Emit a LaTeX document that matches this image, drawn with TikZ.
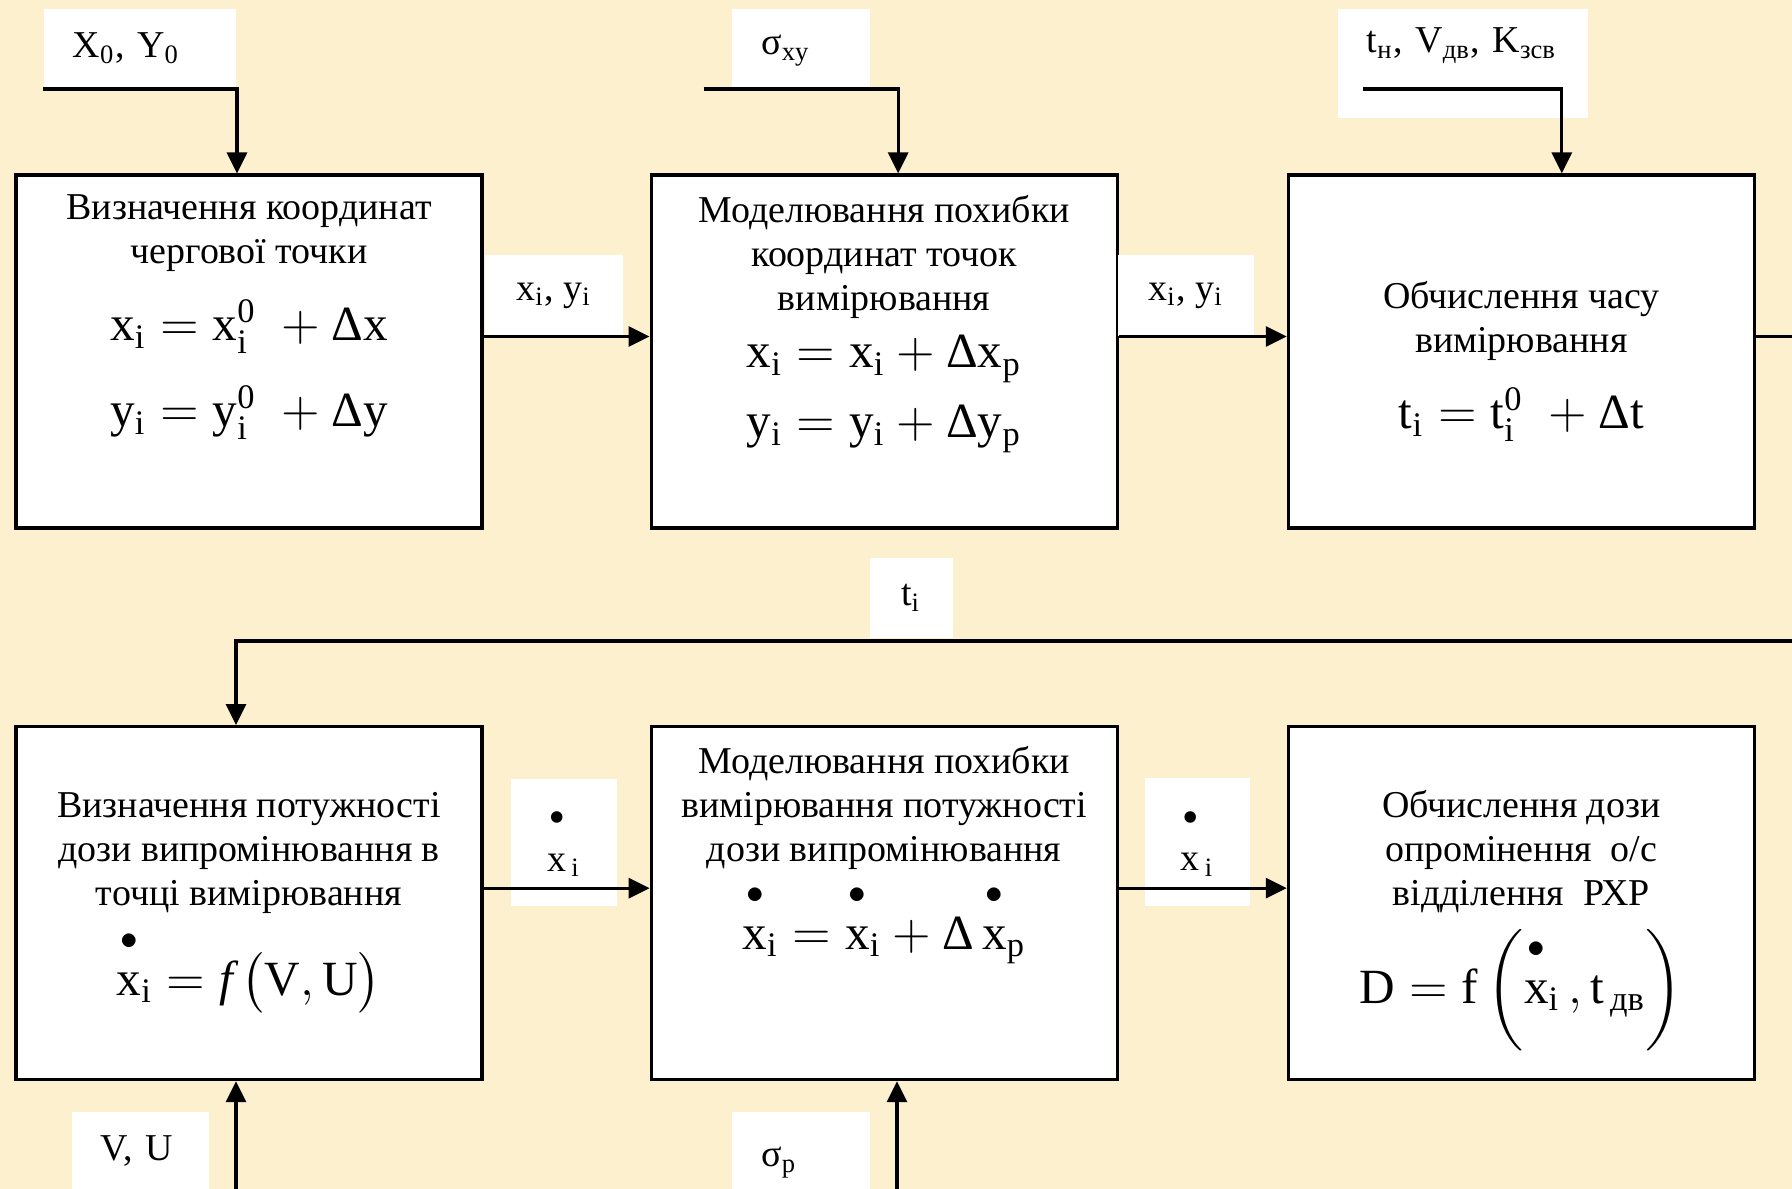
\documentclass[tikz,border=0pt]{standalone}
\usepackage{amsmath}
\usepackage{fontspec}
\setmainfont{Liberation Serif}
\usetikzlibrary{positioning,arrows.meta}
\definecolor{parch}{RGB}{252,240,207}
\newcommand{\pd}[2][5pt]{\overset{\bullet\rule[-#1]{0pt}{#1}}{#2}}

\begin{document}
\begin{tikzpicture}[every node/.style={font=\fontsize{10.8}{12.5}\selectfont},
  blk/.style={draw,fill=white,line width=.9pt,minimum width=4.66cm,minimum height=3.53cm},
  txt/.style={align=center,inner sep=0pt},
  eq/.style={inner sep=0pt,anchor=base,font=\fontsize{14}{16}\selectfont},
  lbl/.style={fill=white,inner ysep=0pt,inner xsep=2.9mm,align=left,anchor=north west},
  lblc/.style={fill=white,inner sep=0pt},
  arr/.style={line width=.9pt,-{Triangle[length=2.1mm,width=2mm]}}]
  \useasboundingbox (0,0) rectangle (17.92,11.89);
  \clip (0,0) rectangle (17.92,11.89);
  \fill[parch] (0,0) rectangle (17.92,11.89);

  \node[blk] (b1) at (2.49,8.375) {};
  \node[blk,right=1.66cm of b1] (b2) {};
  \node[blk,right=1.68cm of b2] (b3) {};
  \node[blk,below=1.955cm of b1] (b4) {};
  \node[blk,below=1.955cm of b2] (b5) {};
  \node[blk,below=1.955cm of b3] (b6) {};

  \node[txt,below=2.1mm of b1.north] (t1) {Визначення координат\\чергової точки};
  \node[eq] (f1) at ([yshift=-16.7mm]b1.north) {$\mathrm{x_i = x_i^0\; + \text{Δ}x}$};
  \node[eq] (f2) at ([yshift=-25.3mm]b1.north) {$\mathrm{y_i = y_i^0\; + \text{Δ}y}$};

  \node[txt,below=2.1mm of b2.north] (t2) {Моделювання похибки\\координат точок\\вимірювання};
  \node[eq] (f3) at ([yshift=-19.4mm]b2.north) {$\mathrm{x_i = x_i + \text{Δ}x_p}$};
  \node[eq] (f4) at ([yshift=-26.4mm]b2.north) {$\mathrm{y_i = y_i + \text{Δ}y_p}$};

  \node[txt,below=10.7mm of b3.north] (t3) {Обчислення часу\\вимірювання};
  \node[eq] (f5) at ([yshift=-25.5mm]b3.north) {$\mathrm{t_i = t_i^0\; + \text{Δ}t}$};

  \node[txt,below=6.7mm of b4.north] (t4) {Визначення потужності\\дози випромінювання в\\точці вимірювання};
  \node[eq] (f6) at ([yshift=-27mm]b4.north) {$\pd{\mathrm{x}}_{\mathrm{i}} = \textit{f}\,\bigl(\mathrm{V,U}\bigr)$};

  \node[txt,below=2.1mm of b5.north] (t5) {Моделювання похибки\\вимірювання потужності\\дози випромінювання};
  \node[eq] (f7) at ([yshift=-22.4mm]b5.north) {$\pd{\mathrm{x}}_{\mathrm{i}} = \pd{\mathrm{x}}_{\mathrm{i}} + \text{Δ}\,\pd{\mathrm{x}}_{\mathrm{p}}$};

  \node[txt,below=6.5mm of b6.north] (t6) {Обчислення дози\\опромінення\ \ о/с\\відділення\ \ РХР};
  \node[eq] (f8) at ([yshift=-27.8mm]b6.north) {$\mathrm{D = f}\left(\pd{\mathrm{x}}_{\mathrm{i}}\,,\mathrm{t}_{\,\text{дв}}\right)$};

  \node[lbl,text width=1.34cm,text height=4.9mm,text depth=2.9mm] (l1) at (0.43,11.81) {X\textsubscript{0}, Y\textsubscript{0}};
  \node[lbl,text width=0.80cm,text height=4.6mm,text depth=3.2mm] (l2) at (7.316,11.81) {σ\textsubscript{xy}};
  \node[lbl,text width=1.92cm,text height=4.4mm,text depth=6.5mm] (l3) at (13.37,11.81) {t\textsubscript{н}, V\textsubscript{дв}, K\textsubscript{зсв}};
  \node[lbl,text width=0.79cm,text height=4.9mm,text depth=4mm] (l9) at (0.71,0.78) {V, U};
  \node[lbl,text width=0.80cm,text height=5.5mm,text depth=3.5mm] (l10) at (7.316,0.78) {σ\textsubscript{p}};
  \node[lblc,minimum width=1.38cm,minimum height=0.81cm] (l4) at (5.54,8.935) {x\textsubscript{i}, y\textsubscript{i}};
  \node[lblc,minimum width=1.36cm,minimum height=0.81cm] (l5) at (11.86,8.935) {x\textsubscript{i}, y\textsubscript{i}};
  \node[lblc,minimum width=0.83cm,minimum height=0.80cm] (l6) at (9.11,5.91) {t\textsubscript{i}};
  \node[lblc,minimum width=1.06cm,minimum height=1.27cm] (l7) at (5.64,3.465) {$\pd[7pt]{\mathrm{x}}_{\,\mathrm{i}}$};
  \node[lblc,minimum width=1.05cm,minimum height=1.28cm] (l8) at (11.975,3.47) {$\pd[7pt]{\mathrm{x}}_{\,\mathrm{i}}$};

  \draw[arr] ([yshift=1.5mm]b1.east) -- ([yshift=1.5mm]b2.west);
  \draw[arr] ([yshift=1.5mm]b2.east) -- ([yshift=1.5mm]b3.west);
  \draw[arr] ([yshift=1.5mm]b4.east) -- ([yshift=1.5mm]b5.west);
  \draw[arr] ([yshift=1.5mm]b5.east) -- ([yshift=1.5mm]b6.west);
  \draw[arr] ([yshift=1.5mm]b3.east) -- ++(0.6,0) coordinate (fb) -- (fb |- 0,5.48) -| ([xshift=-1.3mm]b4.north);

  \coordinate (in1) at (0.43,11.0);
  \coordinate (in2) at (7.035,11.0);
  \coordinate (in3) at (13.63,11.0);
  \coordinate (in4) at (2.36,0);
  \coordinate (in5) at (8.97,0);
  \draw[arr] (in1) -| ([xshift=-1.2mm]b1.north);
  \draw[arr] (in2) -| ([xshift=1.4mm]b2.north);
  \draw[arr] (in3) -| ([xshift=4.05mm]b3.north);
  \draw[arr] (in4) -- (in4 |- b4.south);
  \draw[arr] (in5) -- (in5 |- b5.south);
\end{tikzpicture}
\end{document}
